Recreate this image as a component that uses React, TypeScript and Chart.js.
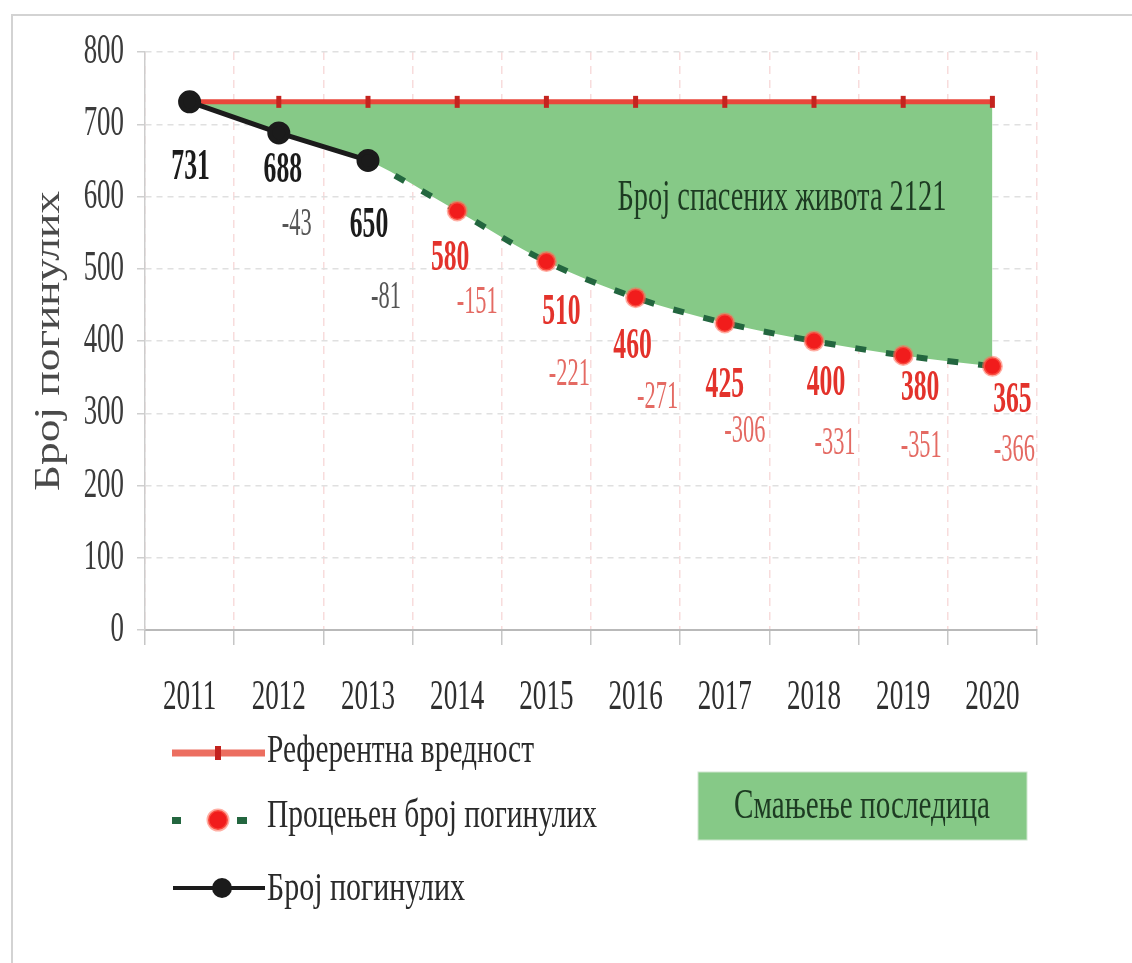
import React, { useEffect, useRef } from 'react';
import { Chart, registerables } from 'chart.js';

Chart.register(...registerables);

// ---------- DATA ----------
const years = ['2011', '2012', '2013', '2014', '2015', '2016', '2017', '2018', '2019', '2020'];
const referenceValues = [731, 731, 731, 731, 731, 731, 731, 731, 731, 731];
const actualDeaths: (number | null)[] = [731, 688, 650, null, null, null, null, null, null, null];
const estimatedDeaths: (number | null)[] = [null, null, 650, 580, 510, 460, 425, 400, 380, 365];
const yTickValues = [0, 100, 200, 300, 400, 500, 600, 700, 800];

const yAxisTitle = 'Број погинулих';
const legendNames = ['Референтна вредност', 'Процењен број погинулих', 'Број погинулих'];
const areaLegendName = 'Смањење последица';
const savedLivesText = 'Број спасених живота';

// ---------- STYLE ----------
const FONT = '"Liberation Serif", "Times New Roman", serif';
const GREEN_FILL = '#86c987';
const RED_LINE = '#e9473b';
const RED_POINT = '#f11c1c';
const DASH_GREEN = '#23663f';
const BLACK = '#1b1b1b';

// label offsets (pixels) relative to each point
const LABEL_DX = [1, 4, 1, -7, 15, -3, 0, 12, 17, 20];
const LABEL_DY = [66, 37, 65, 47, 51, 49, 62, 42, 33, 34];
const DIFF_DX = [0, 18, 18, 20, 23, 22, 20, 21, 18, 22];
const DIFF_DY = [0, 92, 137, 92, 113, 100, 109, 102, 91, 84];

const combined = years.map((_, i) => (actualDeaths[i] ?? estimatedDeaths[i]) as number);
const savedTotal = combined.reduce((s, v, i) => s + (referenceValues[i] - v), 0);

type TOpts = {
  size: number;
  bold?: boolean;
  color: string;
  sx?: number;
  sy?: number;
  align?: CanvasTextAlign;
  baseline?: CanvasTextBaseline;
  rotate?: number;
  width?: number;
};

function drawText(ctx: CanvasRenderingContext2D, text: string, x: number, y: number, o: TOpts) {
  ctx.save();
  ctx.font = `${o.bold ? 'bold ' : ''}${o.size}px ${FONT}`;
  let sx = o.sx ?? 1;
  if (o.width) {
    const w = ctx.measureText(text).width;
    sx = o.width / w;
  }
  ctx.translate(x, y);
  if (o.rotate) ctx.rotate(o.rotate);
  ctx.scale(sx, o.sy ?? 1);
  ctx.fillStyle = o.color;
  ctx.textAlign = o.align || 'center';
  ctx.textBaseline = o.baseline || 'middle';
  ctx.fillText(text, 0, 0);
  ctx.restore();
}

const decorPlugin = {
  id: 'decor',
  beforeDraw(chart: any) {
    const ctx: CanvasRenderingContext2D = chart.ctx;
    ctx.save();
    ctx.fillStyle = '#ffffff';
    ctx.fillRect(0, 0, chart.width, chart.height);
    ctx.strokeStyle = '#d3d3d3';
    ctx.lineWidth = 2;
    ctx.beginPath();
    ctx.moveTo(12, chart.height);
    ctx.lineTo(12, 15);
    ctx.lineTo(chart.width, 15);
    ctx.stroke();
    ctx.restore();
  },
  afterDraw(chart: any) {
    const ctx: CanvasRenderingContext2D = chart.ctx;
    const xs = chart.scales.x;
    const ys = chart.scales.y;

    // y tick labels
    yTickValues.forEach((v) => {
      drawText(ctx, String(v), 124, ys.getPixelForValue(v), { size: 42, color: '#3b3b3b', sx: 0.64, align: 'right' });
    });
    // x tick labels
    years.forEach((yr, i) => {
      drawText(ctx, yr, xs.getPixelForValue(i), 698, { size: 43, color: '#2f2f2f', sx: 0.63 });
    });
    // y axis title
    drawText(ctx, yAxisTitle, 50, 341, { size: 42, color: '#4a4a4a', width: 300, sy: 0.85, rotate: -Math.PI / 2 });

    // area text
    drawText(ctx, `${savedLivesText} ${savedTotal}`, 782, 210, {
      size: 44, color: '#1d3b22', width: 329, baseline: 'alphabetic',
    });

    // data labels
    combined.forEach((v, i) => {
      const px = xs.getPixelForValue(i);
      const py = ys.getPixelForValue(v);
      const isActual = actualDeaths[i] != null;
      drawText(ctx, String(v), px + LABEL_DX[i], py + LABEL_DY[i], {
        size: 45, bold: true, color: isActual ? BLACK : '#e3322b', sx: 0.57,
      });
      if (i > 0) {
        const d = v - referenceValues[i];
        drawText(ctx, String(d), px + DIFF_DX[i], py + DIFF_DY[i], {
          size: 40, color: isActual ? '#555555' : '#e46a63', sx: 0.56,
        });
      }
    });

    // legend
    ctx.save();
    // row 1: reference line
    ctx.strokeStyle = '#ec6e60';
    ctx.lineWidth = 7;
    ctx.beginPath();
    ctx.moveTo(172, 753);
    ctx.lineTo(265, 753);
    ctx.stroke();
    ctx.fillStyle = '#c3221d';
    ctx.fillRect(215, 746, 6, 14);
    // row 2: dashed green + red dot
    ctx.fillStyle = DASH_GREEN;
    ctx.fillRect(172, 817, 9, 7);
    ctx.fillRect(237, 817, 10, 7);
    ctx.beginPath();
    ctx.arc(218, 820, 10, 0, Math.PI * 2);
    ctx.fillStyle = RED_POINT;
    ctx.fill();
    ctx.lineWidth = 3;
    ctx.strokeStyle = 'rgba(255,110,90,0.55)';
    ctx.stroke();
    // row 3: black line + circle
    ctx.strokeStyle = BLACK;
    ctx.lineWidth = 4;
    ctx.beginPath();
    ctx.moveTo(173, 888);
    ctx.lineTo(265, 888);
    ctx.stroke();
    ctx.beginPath();
    ctx.arc(222, 888, 10, 0, Math.PI * 2);
    ctx.fillStyle = BLACK;
    ctx.fill();
    // area legend box
    ctx.fillStyle = GREEN_FILL;
    ctx.fillRect(698, 772, 329, 68);
    ctx.strokeStyle = '#cfe6cf';
    ctx.lineWidth = 1;
    ctx.strokeRect(698, 772, 329, 68);
    ctx.restore();

    drawText(ctx, legendNames[0], 267, 762, { size: 41, color: '#2a2a2a', width: 267, align: 'left', baseline: 'alphabetic' });
    drawText(ctx, legendNames[1], 267, 827, { size: 41, color: '#2a2a2a', width: 330, align: 'left', baseline: 'alphabetic' });
    drawText(ctx, legendNames[2], 267, 900, { size: 41, color: '#2a2a2a', width: 198, align: 'left', baseline: 'alphabetic' });
    drawText(ctx, areaLegendName, 862, 818, { size: 42, color: '#1d3b22', width: 256, baseline: 'alphabetic' });
  },
};

export default function App() {
  const canvasRef = useRef<HTMLCanvasElement | null>(null);

  useEffect(() => {
    document.body.style.margin = '0';
    const canvas = canvasRef.current;
    if (!canvas) return;

    const chart = new Chart(canvas, {
      type: 'line',
      data: {
        labels: years,
        datasets: [
          {
            label: legendNames[0],
            data: referenceValues,
            borderColor: RED_LINE,
            borderWidth: 5,
            pointStyle: 'line',
            rotation: 90,
            pointRadius: 6,
            pointBorderWidth: 5,
            pointBorderColor: '#c4241f',
            pointBackgroundColor: '#c4241f',
            tension: 0,
            fill: false,
            order: 3,
          },
          {
            label: legendNames[2],
            data: actualDeaths,
            borderColor: BLACK,
            borderWidth: 5,
            pointRadius: 9,
            pointBackgroundColor: BLACK,
            pointBorderColor: BLACK,
            tension: 0,
            fill: false,
            order: 1,
          },
          {
            label: legendNames[1],
            data: estimatedDeaths,
            borderColor: DASH_GREEN,
            borderWidth: 6,
            borderDash: [11, 20],
            cubicInterpolationMode: 'monotone',
            pointRadius: years.map((_, i) => (actualDeaths[i] == null ? 9 : 0)),
            pointBackgroundColor: RED_POINT,
            pointBorderColor: 'rgba(255,110,90,0.55)',
            pointBorderWidth: 3,
            fill: false,
            order: 2,
          },
          {
            label: areaLegendName,
            data: combined,
            borderWidth: 0,
            borderColor: 'rgba(0,0,0,0)',
            backgroundColor: GREEN_FILL,
            pointRadius: 0,
            cubicInterpolationMode: 'monotone',
            fill: { target: 0, above: GREEN_FILL, below: GREEN_FILL },
            order: 10,
          },
        ],
      },
      options: {
        animation: false,
        responsive: false,
        events: [],
        layout: { padding: { left: 0, right: 95, top: 52, bottom: 0 } },
        plugins: {
          legend: { display: false },
          tooltip: { enabled: false },
          title: { display: false },
        },
        scales: {
          x: {
            type: 'category',
            offset: true,
            ticks: { display: false },
            grid: {
              offset: true,
              color: '#f8dcdc',
              lineWidth: 1.5,
              drawTicks: true,
              tickLength: 15,
              tickColor: '#c6c6c6',
              tickWidth: 1.5,
            },
            border: { display: true, color: '#b9b9b9', width: 2, dash: [8, 6] },
            afterFit: (s: any) => {
              s.height = 333;
            },
          },
          y: {
            min: 0,
            max: 800,
            ticks: { display: false, stepSize: 100 },
            grid: {
              color: '#e0e0e0',
              lineWidth: 1.5,
              drawTicks: true,
              tickLength: 8,
              tickColor: '#cfcfcf',
            },
            border: { display: true, color: '#cdcdcd', width: 1.5, dash: [6, 5] },
            afterFit: (s: any) => {
              s.width = 145;
            },
          },
        },
      },
      plugins: [decorPlugin],
    });

    return () => {
      chart.destroy();
    };
  }, []);

  return (
    <div style={{ width: 1132, height: 963, position: 'relative' }}>
      <canvas ref={canvasRef} width={1132} height={963} style={{ display: 'block' }} />
    </div>
  );
}
